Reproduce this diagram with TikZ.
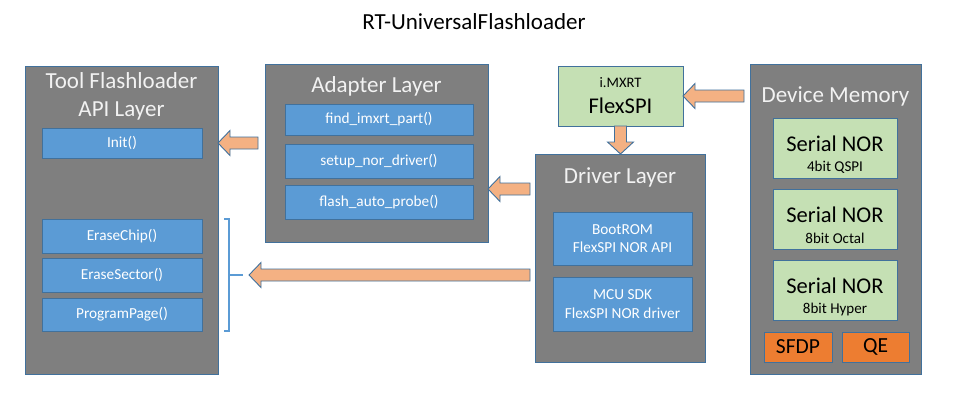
\documentclass[tikz,border=0pt]{standalone}
\usepackage{fontspec}
\setmainfont{Carlito}
\usetikzlibrary{calc,positioning}
\definecolor{edgeblue}{HTML}{41719C}
\definecolor{layergray}{HTML}{7F7F7F}
\definecolor{funcblue}{HTML}{5B9BD5}
\definecolor{memgreen}{HTML}{C5E0B4}
\definecolor{flagorange}{HTML}{ED7D31}
\definecolor{arrowpeach}{HTML}{F4B183}
\newcommand{\fs}[1]{\fontsize{#1}{1.2\dimexpr#1pt\relax}\selectfont}
\tikzset{every node/.style={inner sep=0pt, outer sep=0pt},
  layer/.style={draw=edgeblue, fill=layergray, line width=0.9pt},
  layertitle/.style={text=white!95!black, font=\fs{23}, align=center},
  func/.style={draw=edgeblue, fill=funcblue, line width=0.9pt, text=white, font=\fs{15.3}, align=center, minimum width=160pt},
  mem/.style={draw=edgeblue, fill=memgreen, line width=0.9pt, minimum width=124pt, minimum height=60pt},
  flag/.style={draw=edgeblue, fill=flagorange, line width=0.9pt, font=\fs{21.5}, minimum height=30pt},
  blockarrow/.style={draw=edgeblue, fill=arrowpeach, line width=0.9pt, line join=miter},
  bracket/.style={draw=funcblue, line width=1.5pt}}
\newcommand{\blockleft}[2]{%
  \draw[blockarrow] let \p1=(#1), \p2=(#2) in
    (\x1,\y1+6pt) -- (\x2+12pt,\y1+6pt) -- (\x2+12pt,\y1+12.5pt) -- (\x2,\y1)
    -- (\x2+12pt,\y1-12.5pt) -- (\x2+12pt,\y1-6pt) -- (\x1,\y1-6pt) -- cycle;}
\newcommand{\blockdown}[2]{%
  \draw[blockarrow] let \p1=(#1), \p2=(#2) in
    (\x1-6pt,\y1) -- (\x1-6pt,\y2+12pt) -- (\x1-13pt,\y2+12pt) -- (\x1,\y2)
    -- (\x1+13pt,\y2+12pt) -- (\x1+6pt,\y2+12pt) -- (\x1+6pt,\y1) -- cycle;}
\begin{document}
\begin{tikzpicture}[x=1pt,y=-1pt]
  \useasboundingbox[fill=white] (0,0) rectangle (973,404);
  \node[font=\fs{23}] (title) at (474,22) {RT-UniversalFlashloader};

  \node[layer, minimum width=193pt, minimum height=308pt] (tool) at (121.5,220) {};
  \node[layertitle] (tooltitle) at (121.5,96.5) {Tool Flashloader\\[0pt]API Layer};
  \node[func, minimum height=30pt] (init) at (122,143) {Init()};
  \node[func, minimum height=34pt] (erasechip) at (122,236) {EraseChip()};
  \node[func, minimum height=34pt] (erasesector) at (122,275) {EraseSector()};
  \node[func, minimum height=33pt] (progpage) at (122,314.5) {ProgramPage()};

  \node[layer, minimum width=223pt, minimum height=178pt] (adapter) at (376.5,153) {};
  \node[layertitle] (adaptertitle) at (376.5,86) {Adapter Layer};
  \node[func, minimum width=188pt, minimum height=31pt] (findpart) at (379,119.5) {find\_imxrt\_part()};
  \node[func, minimum width=188pt, minimum height=34pt] (setupnor) at (379,161) {setup\_nor\_driver()};
  \node[func, minimum width=188pt, minimum height=34pt] (autoprobe) at (379,202) {flash\_auto\_probe()};

  \node[draw=edgeblue, fill=memgreen, line width=0.9pt, minimum width=125pt, minimum height=60pt] (flexspi) at (620.5,96) {};
  \node[font=\fs{14.5}] (imxrt) at (620.5,83) {i.MXRT};
  \node[font=\fs{22.5}] (flexspitext) at (620.5,106) {FlexSPI};

  \node[layer, minimum width=170pt, minimum height=208pt] (driver) at (620,258) {};
  \node[layertitle] (drivertitle) at (620,177) {Driver Layer};
  \node[func, minimum width=139pt, minimum height=53pt] (bootrom) at (622.5,238.5) {BootROM\\[0pt]FlexSPI NOR API};
  \node[func, minimum width=139pt, minimum height=54pt] (mcusdk) at (622.5,304) {MCU SDK\\[0pt]FlexSPI NOR driver};

  \node[layer, minimum width=171pt, minimum height=310pt] (memory) at (835.5,219) {};
  \node[layertitle] (memorytitle) at (835.5,96) {Device Memory};
  \foreach \i/\y/\kind in {1/148/4bit QSPI, 2/219/8bit Octal, 3/290/8bit Hyper} {
    \node[mem] (nor\i) at (835,\y) {};
    \node[font=\fs{22.5}] (nor\i main) at (835,\y-4) {Serial NOR};
    \node[font=\fs{15}] (nor\i sub) at (835,\y+19) {\kind};
  }
  \node[flag, minimum width=68pt] (sfdp) at (798,347) {SFDP};
  \node[flag, minimum width=67pt] (qe) at (875.5,347) {QE};

  \draw[bracket] ([xshift=22pt]erasechip.north east) -- ([xshift=27pt]erasechip.north east)
    -- ([xshift=27pt]progpage.south east) -- ([xshift=22pt]progpage.south east);
  \draw[bracket] ([xshift=27pt]erasesector.east) -- ([xshift=41pt]erasesector.east) coordinate (brk);

  \coordinate (atail) at ([xshift=-7pt]adapter.west);
  \coordinate (dtail) at ([xshift=-5pt,yshift=-35pt]driver.north west);
  \coordinate (btail) at ([xshift=-5pt]driver.west);
  \coordinate (btip) at ([xshift=6pt]brk);
  \coordinate (mtail) at ([xshift=-6pt]memory.west);

  \blockleft{atail |- init}{tool.east |- init}
  \blockleft{dtail}{adapter.east |- dtail}
  \blockleft{btail |- brk}{btip}
  \blockleft{mtail |- flexspi}{flexspi.east}
  \blockdown{flexspi.south}{driver.north}
\end{tikzpicture}
\end{document}
